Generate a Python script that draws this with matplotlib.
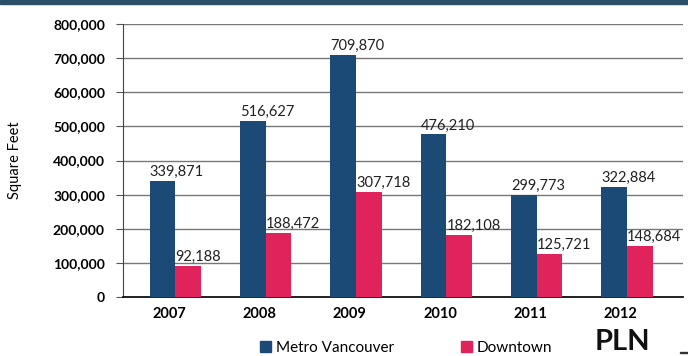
import numpy as np
import matplotlib.pyplot as plt
from matplotlib.patches import Patch

plt.rcParams['font.family'] = ['Lato', 'DejaVu Sans']

years = ['2007', '2008', '2009', '2010', '2011', '2012']
metro = [339871, 516627, 709870, 476210, 299773, 322884]
downtown = [92188, 188472, 307718, 182108, 125721, 148684]

blue = '#1c4a76'
red = '#e0235a'

fig = plt.figure(figsize=(6.88, 3.56), dpi=100)
ax = fig.add_axes([123 / 688, 59 / 356, 560 / 688, 273 / 356])

x = np.arange(len(years))
w = 0.285
ax.bar(x - w / 2, metro, w, color=blue, zorder=3)
ax.bar(x + w / 2, downtown, w, color=red, zorder=3)

# value labels start at the left edge of each bar
for i in range(len(years)):
    ax.text(x[i] - w, metro[i] + 6000, f'{metro[i]:,}', ha='left', va='bottom',
            fontsize=10.5, color='#222222', zorder=4)
    ax.text(x[i], downtown[i] + 6000, f'{downtown[i]:,}', ha='left', va='bottom',
            fontsize=10.5, color='#222222', zorder=4)

ax.set_ylim(0, 800000)
ax.set_yticks(range(0, 800001, 100000))
ax.set_yticklabels([f'{v:,}' for v in range(0, 800001, 100000)],
                   fontsize=10, fontweight='bold')
ax.set_xlim(-0.58, 5.62)
ax.set_xticks(x - 0.07)
ax.set_xticklabels(years, fontsize=10.5, fontweight='bold')
ax.tick_params(axis='x', length=0, pad=7)
ax.tick_params(axis='y', length=5, color='#555555', pad=8)
ax.grid(axis='y', color='#777777', linewidth=1, zorder=0)
for s in ['top', 'right']:
    ax.spines[s].set_visible(False)
ax.spines['left'].set_color('#444444')
ax.spines['bottom'].set_color('#111111')
ax.spines['bottom'].set_linewidth(1.3)
ax.set_ylabel('Square Feet', fontsize=10.5, labelpad=22)

handles = [Patch(color=blue, label='Metro Vancouver'),
           Patch(color=red, label='Downtown')]
fig.legend(handles=handles, loc='center', bbox_to_anchor=(406 / 688, 1 - 348 / 356),
           ncol=2, frameon=False, fontsize=11, handlelength=0.75, handleheight=0.75,
           handletextpad=0.3, columnspacing=4.4)

# header band and stamp
fig.patches.append(plt.Rectangle((0, 1 - 3.5 / 356), 1, 3.5 / 356,
                                 transform=fig.transFigure, color='#2b4f66'))
fig.text(595 / 688, 1 / 356, 'PLN', fontsize=21, fontweight='bold',
         ha='left', va='bottom', color='#111111')
fig.patches.append(plt.Rectangle((680 / 688, 3 / 356), 8 / 688, 1.5 / 356,
                                 transform=fig.transFigure, color='#333333'))

fig.savefig('out.png', dpi=100)
